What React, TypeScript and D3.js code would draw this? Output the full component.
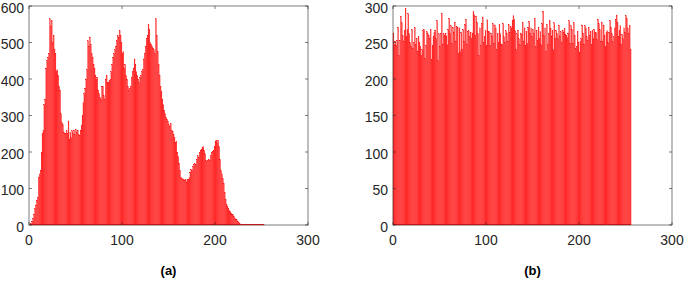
import React, { useEffect, useRef } from "react";
import * as d3 from "d3";

// histogram (a): counts per grey level 0..255
const countsA: number[] = [
  0, 0, 4, 10, 18, 30, 45, 55, 68, 75,
  130, 140, 150, 200, 250, 260, 330, 345, 430, 450,
  460, 470, 565, 545, 560, 500, 520, 480, 470, 420,
  425, 410, 380, 370, 305, 280, 275, 255, 250, 250,
  258, 250, 285, 235, 255, 240, 258, 250, 260, 248,
  262, 255, 260, 248, 245, 260, 272, 300, 335, 360,
  375, 400, 425, 505, 490, 515, 495, 470, 460, 440,
  430, 410, 400, 405, 370, 360, 350, 345, 380, 380,
  355, 345, 400, 410, 390, 390, 395, 400, 420, 440,
  460, 470, 480, 490, 505, 520, 515, 533, 520, 500,
  470, 475, 430, 440, 410, 400, 380, 370, 375, 380,
  405, 420, 430, 455, 440, 420, 410, 400, 390, 405,
  410, 420, 425, 455, 470, 490, 510, 520, 550, 535,
  500, 495, 490, 485, 480, 470, 565, 520, 475, 440,
  410, 380, 365, 345, 330, 315, 305, 295, 290, 285,
  275, 270, 278, 260, 256, 248, 240, 225, 230, 200,
  188, 170, 150, 130, 128, 125, 124, 122, 124, 118,
  125, 124, 130, 145, 152, 150, 160, 165, 168, 165,
  180, 190, 186, 198, 205, 208, 212, 215, 205, 195,
  176, 174, 178, 180, 178, 190, 198, 202, 205, 215,
  230, 233, 225, 232, 215, 180, 150, 140, 128, 115,
  90, 70, 56, 50, 45, 40, 37, 33, 30, 28,
  24, 18, 15, 14, 10, 6, 4, 2, 1, 1,
  1, 1, 1, 1, 1, 1, 1, 1, 1, 1,
  1, 1, 1, 1, 1, 1, 1, 1, 1, 1,
  1, 1, 1, 0, 0, 0,
];

// histogram (b): counts per grey level 0..255
const countsB: number[] = [
  263, 248, 252, 246, 253, 271, 232, 253, 286, 277,
  260, 252, 266, 297, 258, 268, 290, 262, 250, 245,
  268, 242, 250, 271, 247, 256, 238, 258, 250, 244,
  233, 240, 266, 268, 228, 246, 265, 262, 260, 256,
  268, 227, 246, 258, 264, 267, 255, 280, 225, 262,
  245, 262, 290, 248, 262, 260, 263, 259, 247, 268,
  283, 262, 273, 249, 271, 264, 278, 252, 272, 271,
  235, 270, 238, 264, 241, 268, 252, 275, 282, 248,
  265, 266, 258, 264, 255, 263, 292, 288, 260, 286,
  278, 262, 232, 270, 246, 276, 285, 250, 258, 266,
  246, 281, 265, 265, 246, 263, 259, 276, 249, 274,
  270, 240, 262, 250, 275, 262, 248, 247, 276, 258,
  250, 266, 263, 252, 275, 264, 272, 270, 280, 287,
  282, 266, 240, 262, 267, 255, 247, 263, 261, 278,
  252, 270, 246, 265, 249, 271, 279, 263, 270, 258,
  268, 262, 283, 245, 266, 253, 271, 255, 265, 247,
  276, 293, 260, 270, 238, 275, 247, 262, 280, 269,
  259, 266, 240, 277, 256, 267, 262, 255, 274, 259,
  265, 250, 267, 264, 269, 261, 260, 257, 263, 280,
  249, 273, 268, 249, 277, 260, 242, 244, 265, 250,
  237, 252, 255, 274, 263, 248, 273, 270, 258, 253,
  271, 260, 265, 247, 266, 256, 268, 263, 264, 254,
  282, 276, 268, 252, 278, 252, 274, 260, 244, 264,
  266, 250, 264, 280, 271, 262, 251, 258, 270, 282,
  287, 277, 258, 266, 273, 248, 261, 255, 270, 264,
  287, 283, 270, 262, 273, 241,
];

const xTicks: number[] = [0, 100, 200, 300];
const yTicksA: number[] = [0, 100, 200, 300, 400, 500, 600];
const yTicksB: number[] = [0, 50, 100, 150, 200, 250, 300];
const panelLabels: string[] = ["(a)", "(b)"];

const FONT = "'Liberation Sans', Arial, Helvetica, sans-serif";
const AXIS_COLOR = "#262626";

interface PanelProps {
  counts: number[];
  yTicks: number[];
  left: number;
  label: string;
}

const Histogram = ({ counts, yTicks, left, label }: PanelProps) => {
  const gRef = useRef<SVGGElement | null>(null);

  useEffect(() => {
    const width = 279;
    const top = 6;
    const bottom = 225;
    const tickLen = 3;

    const g = d3.select(gRef.current);
    g.selectAll("*").remove();

    const x = d3.scaleLinear().domain([0, 300]).range([left, left + width]);
    const y = d3
      .scaleLinear()
      .domain([0, yTicks[yTicks.length - 1]])
      .range([bottom, top]);

    // bars
    g.append("g")
      .selectAll("rect")
      .data(counts)
      .join("rect")
      .attr("x", (_d, i) => x(i))
      .attr("width", x(1) - x(0))
      .attr("y", (d) => y(d))
      .attr("height", (d) => bottom - y(d))
      .attr("fill", "#ff3636")
      .attr("stroke", "#ff0000")
      .attr("stroke-width", 0.2);

    // box
    g.append("rect")
      .attr("x", left)
      .attr("y", top)
      .attr("width", width)
      .attr("height", bottom - top)
      .attr("fill", "none")
      .attr("stroke", AXIS_COLOR)
      .attr("stroke-width", 0.6);

    // x ticks (bottom + top, inward)
    xTicks.forEach((t) => {
      g.append("line")
        .attr("x1", x(t)).attr("x2", x(t))
        .attr("y1", bottom).attr("y2", bottom - tickLen)
        .attr("stroke", AXIS_COLOR).attr("stroke-width", 0.6);
      g.append("line")
        .attr("x1", x(t)).attr("x2", x(t))
        .attr("y1", top).attr("y2", top + tickLen)
        .attr("stroke", AXIS_COLOR).attr("stroke-width", 0.6);
      g.append("text")
        .attr("x", x(t))
        .attr("y", bottom + 20)
        .attr("text-anchor", "middle")
        .style("font-family", FONT)
        .style("font-size", "14px")
        .attr("fill", AXIS_COLOR)
        .text(t);
    });

    // y ticks (left + right, inward)
    yTicks.forEach((t) => {
      g.append("line")
        .attr("x1", left).attr("x2", left + tickLen)
        .attr("y1", y(t)).attr("y2", y(t))
        .attr("stroke", AXIS_COLOR).attr("stroke-width", 0.6);
      g.append("line")
        .attr("x1", left + width).attr("x2", left + width - tickLen)
        .attr("y1", y(t)).attr("y2", y(t))
        .attr("stroke", AXIS_COLOR).attr("stroke-width", 0.6);
      g.append("text")
        .attr("x", left - 5)
        .attr("y", y(t) + 6.6)
        .attr("text-anchor", "end")
        .style("font-family", FONT)
        .style("font-size", "14px")
        .attr("fill", AXIS_COLOR)
        .text(t);
    });

    // panel caption
    g.append("text")
      .attr("x", left + width / 2)
      .attr("y", 275)
      .attr("text-anchor", "middle")
      .style("font-family", FONT)
      .style("font-size", "13px")
      .style("font-weight", "bold")
      .attr("fill", "#000")
      .text(label);
  }, [counts, yTicks, left, label]);

  return <g ref={gRef} />;
};

export default function App() {
  return (
    <svg
      width={685}
      height={281}
      style={{ position: "absolute", left: 0, top: 0, background: "#fff" }}
    >
      <Histogram counts={countsA} yTicks={yTicksA} left={29} label={panelLabels[0]} />
      <Histogram counts={countsB} yTicks={yTicksB} left={393} label={panelLabels[1]} />
    </svg>
  );
}
